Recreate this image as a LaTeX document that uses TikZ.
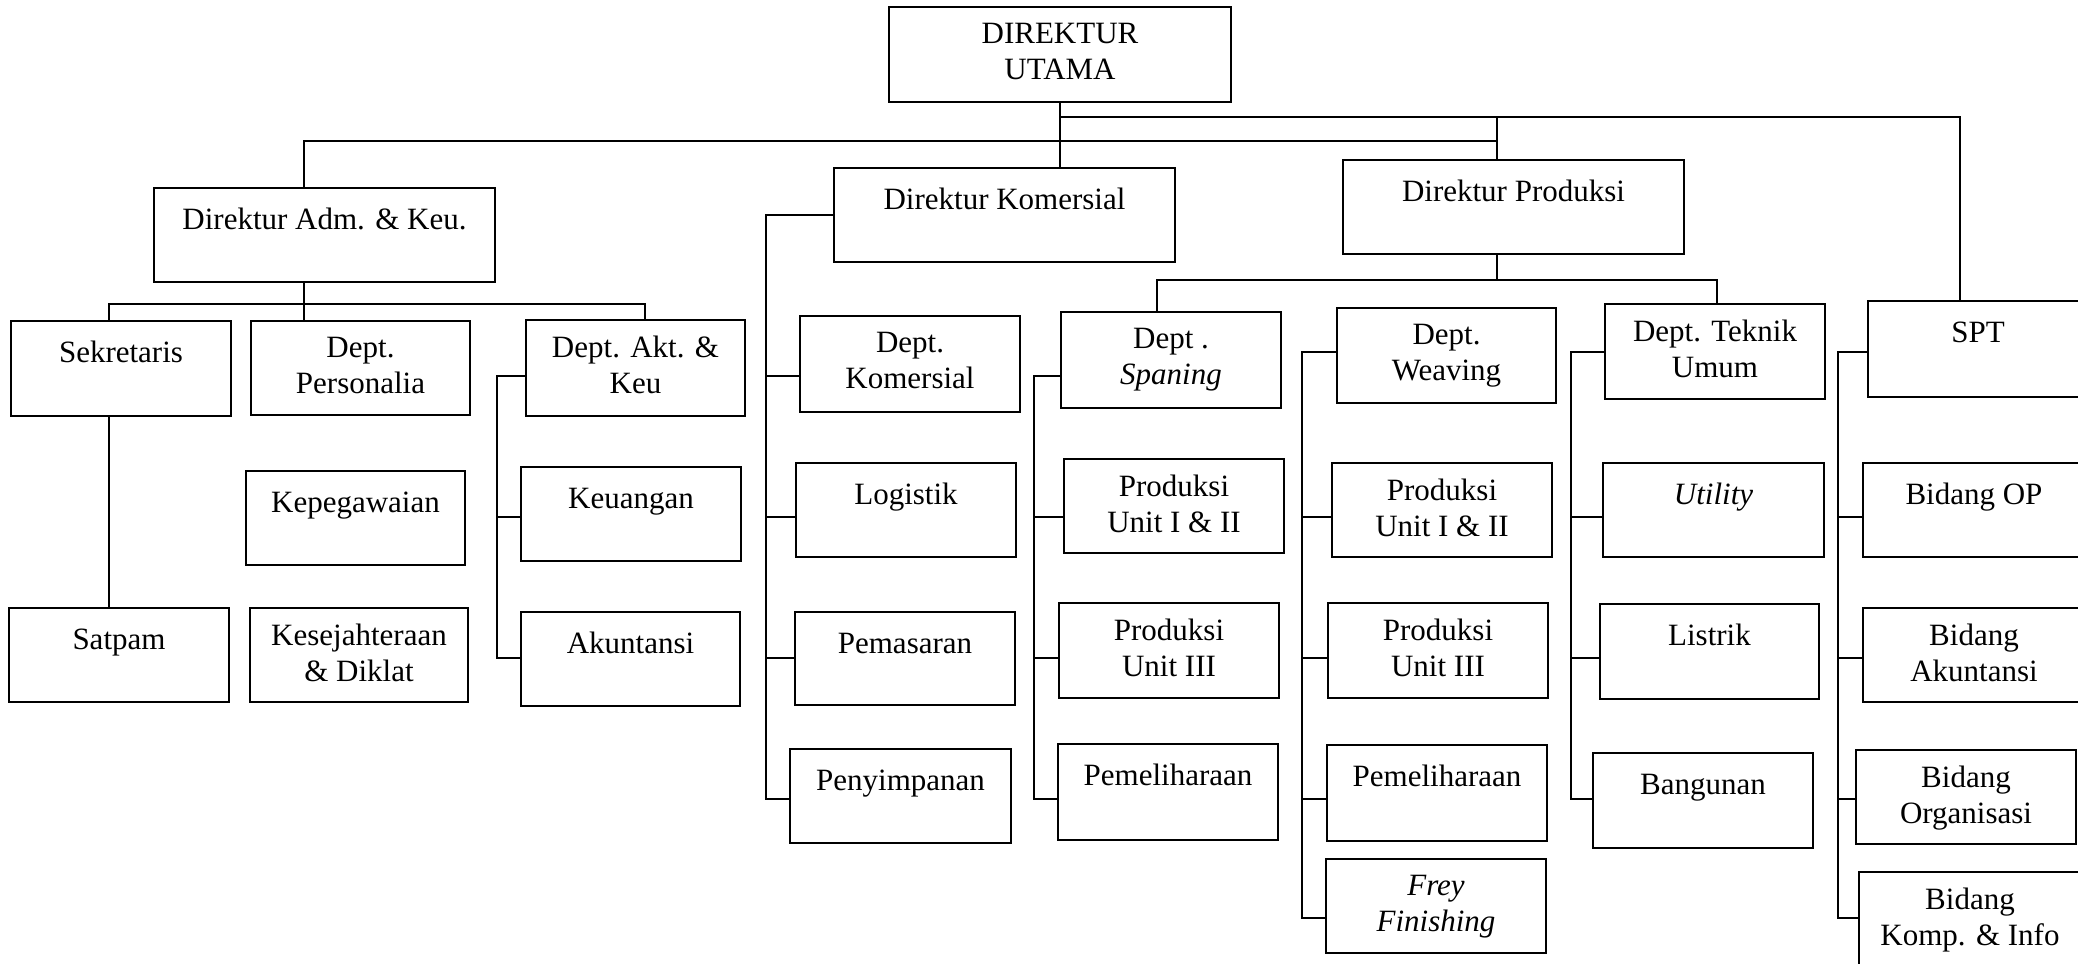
\documentclass[tikz,border=0pt]{standalone}
\usepackage{fontspec}
\setmainfont{Liberation Serif}
\usetikzlibrary{positioning}

\begin{document}
\begin{tikzpicture}[x=0.5pt,y=-0.5pt,
        box/.style={draw,line width=1.2pt,anchor=north west,inner sep=0pt,outer sep=0pt},
        sz/.style 2 args={minimum width=#1*0.5pt,minimum height=#2*0.5pt},
        txt/.style={anchor=north,yshift=-7.9pt,inner sep=0pt,align=center,
            font=\fontsize{15.5}{18}\selectfont,execute at begin node=\strut},
        link/.style={line width=1pt}]
    \useasboundingbox (0,0) rectangle (2078,964);

    % directors
    \node[box,sz={342}{95},label={[txt]north:DIREKTUR\\UTAMA}] (du) at (889,7) {};
    \node[box,sz={341}{94},label={[txt]north:Direktur Adm. \& Keu.}] (adm) at (154,188) {};
    \node[box,sz={341}{94},label={[txt]north:Direktur Komersial}] (kom) at (834,168) {};
    \node[box,sz={341}{94},label={[txt]north:Direktur Produksi}] (prod) at (1343,160) {};

    % adm & keu
    \node[box,sz={220}{95},label={[txt]north:Sekretaris}] (sek) at (11,321) {};
    \node[box,sz={219}{94},label={[txt]north:Dept.\\Personalia}] (pers) at (251,321) {};
    \node[box,sz={219}{96},label={[txt]north:Dept. Akt. \&\\Keu}] (akt) at (526,320) {};
    \node[box,sz={219}{94},label={[txt]north:Kepegawaian}] (kep) at (246,471) {};
    \node[box,sz={220}{94},label={[txt]north:Keuangan}] (keu) at (521,467) {};
    \node[box,sz={220}{94},label={[txt]north:Satpam}] (sat) at (9,608) {};
    \node[box,sz={218}{94},label={[txt]north:Kesejahteraan\\\& Diklat}] (kes) at (250,608) {};
    \node[box,sz={219}{94},label={[txt]north:Akuntansi}] (akun) at (521,612) {};

    % komersial
    \node[box,sz={220}{96},label={[txt]north:Dept.\\Komersial}] (dkom) at (800,316) {};
    \node[box,sz={220}{94},label={[txt]north:Logistik}] (log) at (796,463) {};
    \node[box,sz={220}{93},label={[txt]north:Pemasaran}] (pem) at (795,612) {};
    \node[box,sz={221}{94},label={[txt]north:Penyimpanan}] (peny) at (790,749) {};

    % produksi
    \node[box,sz={220}{96},label={[txt]north:Dept .\\\textit{Spaning}}] (spn) at (1061,312) {};
    \node[box,sz={220}{94},label={[txt]north:Produksi\\Unit I \& II}] (spn1) at (1064,459) {};
    \node[box,sz={220}{95},label={[txt]north:Produksi\\Unit III}] (spn2) at (1059,603) {};
    \node[box,sz={220}{96},label={[txt]north:Pemeliharaan}] (spn3) at (1058,744) {};
    \node[box,sz={219}{95},label={[txt]north:Dept.\\Weaving}] (wv) at (1337,308) {};
    \node[box,sz={220}{94},label={[txt]north:Produksi\\Unit I \& II}] (wv1) at (1332,463) {};
    \node[box,sz={220}{95},label={[txt]north:Produksi\\Unit III}] (wv2) at (1328,603) {};
    \node[box,sz={220}{96},label={[txt]north:Pemeliharaan}] (wv3) at (1327,745) {};
    \node[box,sz={220}{94},label={[txt]north:\textit{Frey}\\\textit{Finishing}}] (wv4) at (1326,859) {};
    \node[box,sz={220}{95},label={[txt]north:Dept. Teknik\\Umum}] (tek) at (1605,304) {};
    \node[box,sz={221}{94},label={[txt]north:\textit{Utility}}] (util) at (1603,463) {};
    \node[box,sz={219}{95},label={[txt]north:Listrik}] (lis) at (1600,604) {};
    \node[box,sz={220}{95},label={[txt]north:Bangunan}] (bang) at (1593,753) {};

    % spt
    \node[box,sz={220}{96},label={[txt]north:SPT}] (spt) at (1868,301) {};
    \node[box,sz={222}{94},label={[txt]north:Bidang OP}] (op) at (1863,463) {};
    \node[box,sz={222}{94},label={[txt]north:Bidang\\Akuntansi}] (bak) at (1863,608) {};
    \node[box,sz={220}{94},label={[txt]north:Bidang\\Organisasi}] (borg) at (1856,750) {};
    \node[box,sz={222}{100},label={[txt]north:Bidang\\Komp. \& Info}] (bkomp) at (1859,872) {};

    % junctions
    \coordinate (ja) at (304,141);
    \coordinate (jb) at (1497,141);
    \coordinate (jc) at (1960,117);
    \coordinate (jd) at (304,304);
    \coordinate (je) at (109,304);
    \coordinate (jf) at (645,304);
    \coordinate (jg) at (1497,280);
    \coordinate (jh) at (1157,280);
    \coordinate (ji) at (1717,280);
    % rows and columns of the side lines
    \coordinate (ra) at (0,352);
    \coordinate (rb) at (0,376);
    \coordinate (rc) at (0,517);
    \coordinate (rd) at (0,658);
    \coordinate (re) at (0,799);
    \coordinate (rf) at (0,918);
    \coordinate (ca) at (497,0);
    \coordinate (cb) at (766,0);
    \coordinate (cc) at (1034,0);
    \coordinate (cd) at (1302,0);
    \coordinate (ce) at (1571,0);
    \coordinate (cf) at (1838,0);

    % top level
    \draw[link] (du.south) -- (du.south |- kom.north);
    \draw[link] (du.south |- jc) -- (jc) -- (jc |- spt.north);
    \draw[link] (ja |- adm.north) -- (ja) -- (jb);
    \draw[link] (jb |- jc) -- (jb |- prod.north);

    % adm & keu
    \draw[link] (ja |- adm.south) -- (jd) -- (jd |- pers.north);
    \draw[link] (je |- sek.north) -- (je) -- (jf) -- (jf |- akt.north);
    \draw[link] (je |- sek.south) -- (je |- sat.north);
    \draw[link] (akt.west |- rb) -| (ca |- rd) -- (akun.west |- rd);
    \draw[link] (ca |- rc) -- (keu.west |- rc);

    % komersial
    \draw[link] (kom.west) -| (cb |- re) -- (peny.west |- re);
    \draw[link] (cb |- rb) -- (dkom.west |- rb);
    \draw[link] (cb |- rc) -- (log.west |- rc);
    \draw[link] (cb |- rd) -- (pem.west |- rd);

    % produksi
    \draw[link] (jg |- prod.south) -- (jg);
    \draw[link] (jh |- spn.north) -- (jh) -- (ji) -- (ji |- tek.north);
    \draw[link] (spn.west |- rb) -| (cc |- re) -- (spn3.west |- re);
    \draw[link] (cc |- rc) -- (spn1.west |- rc);
    \draw[link] (cc |- rd) -- (spn2.west |- rd);
    \draw[link] (wv.west |- ra) -| (cd |- rf) -- (wv4.west |- rf);
    \draw[link] (cd |- rc) -- (wv1.west |- rc);
    \draw[link] (cd |- rd) -- (wv2.west |- rd);
    \draw[link] (cd |- re) -- (wv3.west |- re);
    \draw[link] (tek.west |- ra) -| (ce |- re) -- (bang.west |- re);
    \draw[link] (ce |- rc) -- (util.west |- rc);
    \draw[link] (ce |- rd) -- (lis.west |- rd);

    % spt
    \draw[link] (spt.west |- ra) -| (cf |- rf) -- (bkomp.west |- rf);
    \draw[link] (cf |- rc) -- (op.west |- rc);
    \draw[link] (cf |- rd) -- (bak.west |- rd);
    \draw[link] (cf |- re) -- (borg.west |- re);
\end{tikzpicture}
\end{document}
